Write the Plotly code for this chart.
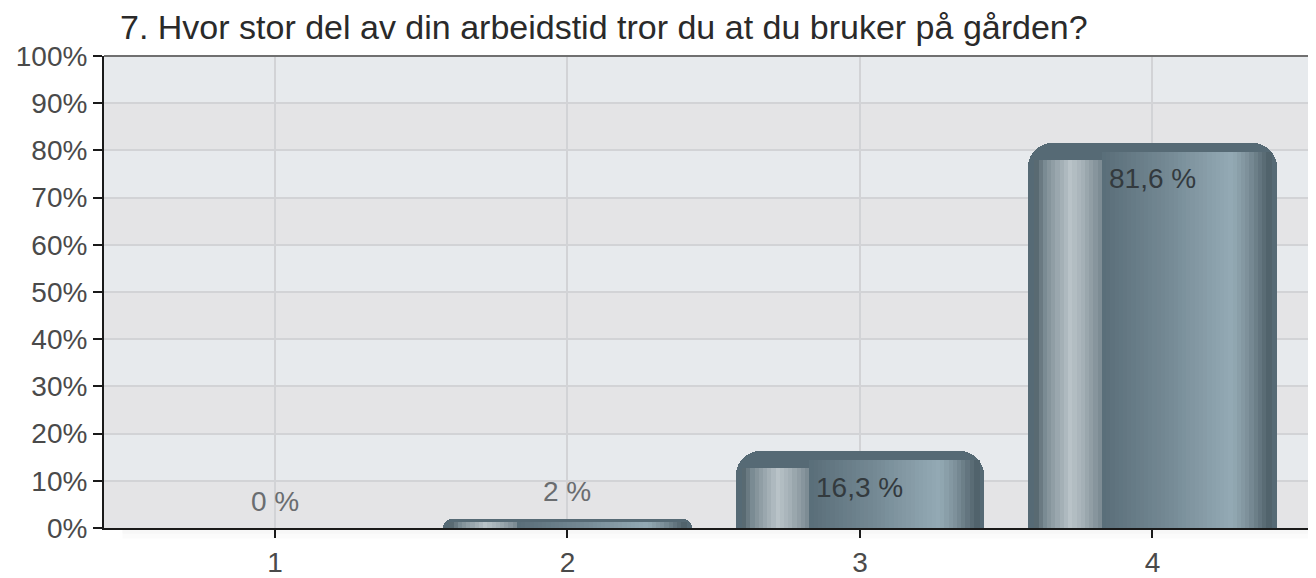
import plotly.graph_objects as go

# ---- data ----
categories = [1, 2, 3, 4]
category_labels = ["1", "2", "3", "4"]
values = [0, 2, 16.3, 81.6]
value_labels = ["0 %", "2 %", "16,3 %", "81,6 %"]
y_ticks = [0, 10, 20, 30, 40, 50, 60, 70, 80, 90, 100]
title_text = "7. Hvor stor del av din arbeidstid tror du at du bruker på gården?"

# ---- style ----
FONT = "Liberation Sans, Arial, sans-serif"
BAR_W = 0.85
BASE_COLOR = "#566a75"
W, H = 1320, 570          # page body has an 8px margin
ML, MT, MB = 96, 48, 46
PX_PER_CAT = 292.5
X0 = 0.4155
X1 = X0 + (W - ML) / PX_PER_CAT

# cylinder shading stops (t across the bar, colour)
stops = [
    (0.00, (0x3d, 0x4f, 0x58)),
    (0.03, (0x56, 0x67, 0x6f)),
    (0.07, (0x7d, 0x8d, 0x95)),
    (0.17, (0xb9, 0xc3, 0xc8)),
    (0.22, (0xa4, 0xb0, 0xb6)),
    (0.29, (0x7c, 0x8b, 0x93)),
    (0.30, (0x5a, 0x6e, 0x79)),
    (0.55, (0x73, 0x88, 0x93)),
    (0.82, (0x94, 0xaa, 0xb5)),
    (0.88, (0x7f, 0x92, 0x9c)),
    (0.95, (0x5a, 0x6c, 0x75)),
    (1.00, (0x3e, 0x50, 0x5a)),
]


def shade(t):
    for (t0, c0), (t1, c1) in zip(stops[:-1], stops[1:]):
        if t0 <= t <= t1:
            f = 0 if t1 == t0 else (t - t0) / (t1 - t0)
            c = [round(a + (b - a) * f) for a, b in zip(c0, c1)]
            return "rgb(%d,%d,%d)" % tuple(c)
    return "rgb(62,80,90)"


fig = go.Figure()

# base bar (gives rounded cap and dark edges)
fig.add_trace(go.Bar(
    x=categories, y=values, width=BAR_W,
    marker=dict(color=BASE_COLOR, line=dict(width=0), cornerradius=24),
    hoverinfo="skip", showlegend=False,
))

# shading stripes
N = 56
t_lo, t_hi = 0.025, 0.975
step = (t_hi - t_lo) / N
for i in range(N):
    t = t_lo + (i + 0.5) * step
    cap = 3.6 if t < 0.30 else 1.9
    heights = [max(v - min(cap, v * 0.35), 0) for v in values]
    off = -BAR_W / 2 + (t_lo + i * step) * BAR_W
    fig.add_trace(go.Bar(
        x=categories, y=heights,
        width=step * BAR_W * 1.35, offset=off,
        marker=dict(color=shade(t), line=dict(width=0)),
        hoverinfo="skip", showlegend=False,
    ))

# value labels
for c, v, lab in zip(categories, values, value_labels):
    inside = v >= 10
    fig.add_annotation(
        x=c, y=v, text=lab, showarrow=False, xanchor="center", yanchor="middle",
        yshift=-36 if inside else 27,
        font=dict(family=FONT, size=28, color="#333a3e" if inside else "#6a6d70"),
    )

# alternating background bands
shapes = []
for k, (a, b) in enumerate(zip(y_ticks[:-1], y_ticks[1:])):
    col = "#e4e4e6" if (len(y_ticks) - 2 - k) % 2 else "#e7eaed"
    shapes.append(dict(type="rect", xref="paper", yref="y", x0=0, x1=1, y0=a, y1=b,
                       fillcolor=col, line=dict(width=0), layer="below"))
# top border
shapes.append(dict(type="line", xref="paper", yref="paper", x0=0, x1=1, y0=1, y1=1,
                   line=dict(color="#707070", width=2)))
# soft shadow under the x axis
shapes.append(dict(type="rect", xref="paper", yref="paper", x0=0.015, x1=1, y0=-0.012, y1=0,
                   fillcolor="rgba(0,0,0,0.03)", line=dict(width=0), layer="below"))
shapes.append(dict(type="rect", xref="paper", yref="paper", x0=0.015, x1=1, y0=-0.022, y1=-0.012,
                   fillcolor="rgba(0,0,0,0.015)", line=dict(width=0), layer="below"))

fig.update_layout(
    width=W, height=H,
    margin=dict(l=ML, r=0, t=MT, b=MB),
    paper_bgcolor="white", plot_bgcolor="#e6e8eb",
    barmode="overlay", bargap=0,
    shapes=shapes,
    title=dict(text=title_text, x=112 / W, xanchor="left", y=1 - 19 / H, yanchor="middle",
               font=dict(family=FONT, size=34, color="#2a2a2a")),
    font=dict(family=FONT),
)
fig.update_xaxes(
    range=[X0, X1], tickvals=categories, ticktext=category_labels,
    showgrid=True, gridcolor="#d2d3d6", gridwidth=1.5,
    showline=True, linecolor="#1a1a1a", linewidth=2,
    ticks="outside", ticklen=8, tickwidth=2, tickcolor="#1a1a1a",
    tickfont=dict(family=FONT, size=28, color="#4a4a4a"), zeroline=False,
)
fig.update_yaxes(
    range=[0, 100], tickvals=y_ticks, ticktext=["%d%%" % t for t in y_ticks],
    showgrid=True, gridcolor="#d2d3d6", gridwidth=1.5,
    showline=True, linecolor="#1a1a1a", linewidth=2,
    ticks="outside", ticklen=9, tickwidth=2, tickcolor="#1a1a1a",
    tickfont=dict(family=FONT, size=28, color="#4a4a4a"), zeroline=False,
)

fig.write_html("out.html", config={"displayModeBar": False})
